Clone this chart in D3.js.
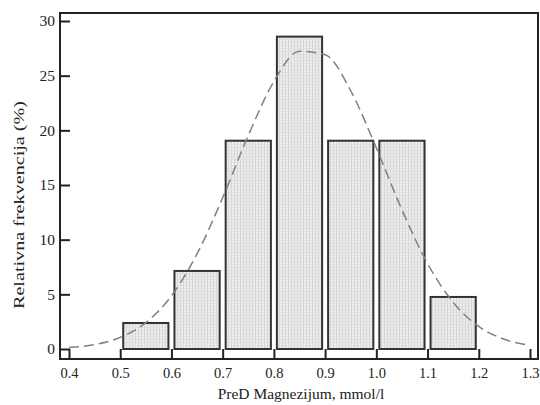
<!DOCTYPE html>
<html><head><meta charset="utf-8">
<script src="https://cdn.jsdelivr.net/npm/d3@7"></script>
<style>
html,body{margin:0;padding:0;background:#fff;}
svg{display:block;}
svg text{font-family:'Liberation Serif','Times New Roman','DejaVu Serif',serif !important;fill:#222;}
</style></head><body>
<svg id="chart" width="540" height="405"></svg>
<script>
// bins (lower/upper edges, mmol/l) and relative frequency (%)
const binStart = [0.5, 0.6, 0.7, 0.8, 0.9, 1.0, 1.1];
const binEnd   = [0.6, 0.7, 0.8, 0.9, 1.0, 1.1, 1.2];
const freq     = [2.38, 7.14, 19.05, 28.57, 19.05, 19.05, 4.76];
// dashed fitted curve
const curveX = [0.40,0.45,0.50,0.55,0.60,0.65,0.70,0.75,0.80,0.85,0.90,0.95,1.00,1.05,1.10,1.15,1.20,1.25,1.30];
const curveY = [0.14,0.41,1.06,2.41,4.86,8.70,13.83,19.53,24.47,27.24,26.92,23.62,18.39,12.73,7.81,4.26,2.06,0.89,0.34];
const xTicks = [0.4,0.5,0.6,0.7,0.8,0.9,1.0,1.1,1.2,1.3];
const yTicks = [0,5,10,15,20,25,30];
const xTitle = "PreD Magnezijum, mmol/l";
const yTitle = "Relativna frekvencija (%)";

const svg = d3.select("#chart");
const frame = {l:60, r:538, t:13, b:359};
const x = d3.scaleLinear().domain([0.4,1.3]).range([69,530]);
const y = d3.scaleLinear().domain([0,30]).range([349,21]);
const FONT = "'Liberation Serif','Times New Roman','DejaVu Serif',serif";

const defs = svg.append("defs");
const pat = defs.append("pattern").attr("id","dots").attr("patternUnits","userSpaceOnUse")
  .attr("width",3).attr("height",3);
pat.append("rect").attr("width",3).attr("height",3).attr("fill","#eeeeee");
pat.append("rect").attr("x",0).attr("y",0).attr("width",1).attr("height",3).attr("fill","#d4d4d4");
pat.append("rect").attr("x",0).attr("y",0).attr("width",3).attr("height",1).attr("fill","#dedede");

// bars
const inset = 3;
svg.append("g").selectAll("rect").data(freq).join("rect")
  .attr("x",(d,i)=>x(binStart[i])+inset)
  .attr("width",(d,i)=>x(binEnd[i])-x(binStart[i])-2*inset)
  .attr("y",d=>y(d))
  .attr("height",d=>y(0)-y(d))
  .attr("fill","url(#dots)")
  .attr("stroke","#333").attr("stroke-width",2);

// curve
const pts = curveX.map((v,i)=>[v,curveY[i]]);
svg.append("path").datum(pts)
  .attr("d",d3.line().x(d=>x(d[0])).y(d=>y(d[1])).curve(d3.curveMonotoneX))
  .attr("fill","none").attr("stroke","#808080").attr("stroke-width",1.5)
  .attr("stroke-dasharray","10,5");

// frame
svg.append("rect").attr("x",frame.l).attr("y",frame.t)
  .attr("width",frame.r-frame.l).attr("height",frame.b-frame.t)
  .attr("fill","none").attr("stroke","#222").attr("stroke-width",2);

// x axis (ticks inward)
const xAxis = d3.axisBottom(x).tickValues(xTicks).tickFormat(d3.format(".1f"))
  .tickSizeInner(-10).tickSizeOuter(0).tickPadding(8.5);
const gx = svg.append("g").attr("transform",`translate(0,${frame.b})`).call(xAxis)
  .attr("font-family",FONT);
gx.select(".domain").remove();
gx.selectAll(".tick line").attr("stroke","#222").attr("stroke-width",2);
gx.selectAll(".tick text").attr("font-size",14.5).attr("fill","#222").style("font-family",FONT);

// y axis (ticks inward)
const yAxis = d3.axisLeft(y).tickValues(yTicks).tickFormat(d3.format("d"))
  .tickSizeInner(-10).tickSizeOuter(0).tickPadding(5);
const gy = svg.append("g").attr("transform",`translate(${frame.l},0)`).call(yAxis)
  .attr("font-family",FONT);
gy.select(".domain").remove();
gy.selectAll(".tick line").attr("stroke","#222").attr("stroke-width",2);
gy.selectAll(".tick text").attr("font-size",15.5).attr("fill","#222").style("font-family",FONT);

// titles
svg.append("text").attr("x",301).attr("y",399).attr("text-anchor","middle")
  .attr("font-size",15.5).style("font-family",FONT).text(xTitle);
svg.append("text").attr("transform","translate(24,205) rotate(-90)")
  .attr("text-anchor","middle").attr("font-size",15.5)
  .attr("textLength",208).attr("lengthAdjust","spacingAndGlyphs")
  .style("font-family",FONT).text(yTitle);
</script>
</body></html>
